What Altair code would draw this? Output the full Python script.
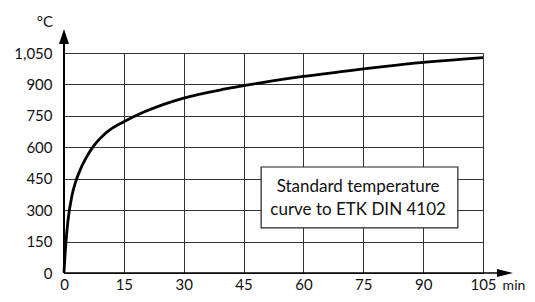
import altair as alt
import pandas as pd

# Standard temperature curve (ETK / DIN 4102)
minutes = [0, 0.5, 1, 2, 3, 4, 5, 6, 7, 8, 10, 12, 15, 20, 25, 30, 40, 45, 50,
           60, 70, 75, 80, 90, 100, 105]
temps = [5, 150, 250, 370, 440, 490, 530, 565, 595, 620, 660, 690, 722, 768,
         805, 835, 877, 894, 910, 938, 962, 974, 985, 1005, 1021, 1028]

x_ticks = [0, 15, 30, 45, 60, 75, 90, 105]
y_ticks = [0, 150, 300, 450, 600, 750, 900, 1050]

label_lines = ["Standard temperature", "curve to ETK DIN 4102"]

FONT = "Lato"

df = pd.DataFrame({"t": minutes, "T": temps})

xs = alt.Scale(domain=[0, 105], nice=False, zero=False)
ys = alt.Scale(domain=[0, 1050], nice=False, zero=False)


def X(field):
    return alt.X(field, scale=xs, title=None)


def Y(field):
    return alt.Y(field, scale=ys, title=None)


base = alt.Chart(df)

curve = base.mark_line(color="black", strokeWidth=2.8, interpolate="monotone").encode(
    x=alt.X("t:Q", scale=xs, title=None,
            axis=alt.Axis(values=x_ticks, tickCount=20, labelPadding=4)),
    y=alt.Y("T:Q", scale=ys, title=None,
            axis=alt.Axis(values=y_ticks, tickCount=20, labelPadding=12,
                          labelExpr="format(datum.value, ',')")),
)

# axes with arrows
yaxis_line = alt.Chart(pd.DataFrame({"x": [0], "y": [0], "y2": [1100]})).mark_rule(
    color="black", strokeWidth=2, clip=False
).encode(x=X("x:Q"), y=Y("y:Q"), y2="y2:Q")

xaxis_line = alt.Chart(pd.DataFrame({"x": [0], "x2": [109], "y": [0]})).mark_rule(
    color="black", strokeWidth=1.5, clip=False
).encode(x=X("x:Q"), x2="x2:Q", y=Y("y:Q"))

y_arrow = alt.Chart(pd.DataFrame({"x": [0], "y": [1129]})).mark_point(
    shape="M0,-1L0.667,1L-0.667,1Z", size=225, filled=True, color="black",
    opacity=1, clip=False
).encode(x=X("x:Q"), y=Y("y:Q"))

x_arrow = alt.Chart(pd.DataFrame({"x": [110.5], "y": [0]})).mark_point(
    shape="M1,0L-1,-0.5L-1,0.5Z", size=256, filled=True, color="black",
    opacity=1, clip=False
).encode(x=X("x:Q"), y=Y("y:Q"))

unit_y = alt.Chart(pd.DataFrame({"x": [-4.8], "y": [1198], "s": ["°C"]})).mark_text(
    font=FONT, fontSize=15, color="#111", clip=False
).encode(x=X("x:Q"), y=Y("y:Q"), text="s:N")

unit_x = alt.Chart(pd.DataFrame({"x": [115.6], "y": [-62], "s": ["min"]})).mark_text(
    font=FONT, fontSize=14, color="#111", clip=False, align="right"
).encode(x=X("x:Q"), y=Y("y:Q"), text="s:N")

box = alt.Chart(pd.DataFrame({"x": [49.4], "x2": [98.7], "y": [215], "y2": [506]})).mark_rect(
    fill="white", stroke="#222", strokeWidth=1.2
).encode(x=X("x:Q"), x2="x2:Q", y=Y("y:Q"), y2="y2:Q")

box_text = alt.Chart(pd.DataFrame({"x": [73.7, 73.7], "y": [410, 301], "s": label_lines})).mark_text(
    font=FONT, fontSize=17, color="#111"
).encode(x=X("x:Q"), y=Y("y:Q"), text="s:N")

chart = alt.layer(
    curve, box, box_text, yaxis_line, xaxis_line, y_arrow, x_arrow, unit_y, unit_x
).properties(
    width=419, height=220,
    autosize=alt.AutoSizeParams(type="none"),
    padding={"left": 56, "top": 45, "right": 44, "bottom": 21},
    background="white",
).configure_view(
    stroke=None
).configure_axis(
    grid=True, gridColor="#333", gridWidth=1, domain=False, ticks=False,
    labelFont=FONT, labelFontSize=15, labelColor="#111", labelOverlap=False,
    labelFlush=False, title=None,
)

chart.save("out.html", embed_options={"renderer": "svg", "actions": False})
